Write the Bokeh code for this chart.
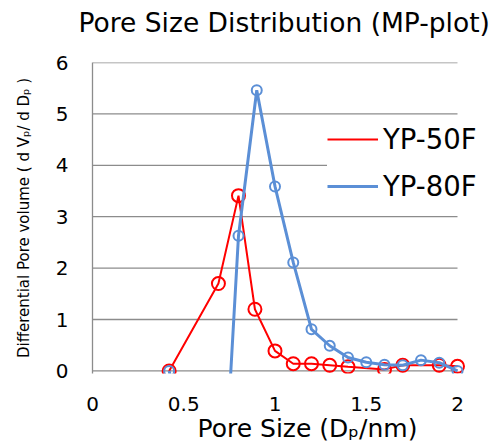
from bokeh.plotting import figure
from bokeh.models import (Legend, LegendItem, FixedTicker, Range1d, ColumnDataSource,
                          CDSView, BooleanFilter, Title, LinearAxis)
from bokeh.embed import file_html
from bokeh.resources import INLINE

# ---- data ----
red_name = "YP-50F"
red_x = [0.42, 0.69, 0.80, 0.89, 1.00, 1.10, 1.20, 1.30, 1.40, 1.60, 1.70, 1.90, 2.00]
red_y = [0.00, 1.70, 3.41, 1.20, 0.39, 0.14, 0.14, 0.11, 0.08, 0.03, 0.11, 0.11, 0.09]

blue_name = "YP-80F"
blue_x = [0.42, 0.69, 0.80, 0.90, 1.00, 1.10, 1.20, 1.30, 1.40, 1.50, 1.60, 1.70, 1.80, 1.90, 2.00]
blue_y = [0.00, -4.26, 2.63, 5.46, 3.59, 2.11, 0.81, 0.49, 0.26, 0.17, 0.12, 0.11, 0.21, 0.16, 0.00]

x_ticks = [0, 0.5, 1, 1.5, 2]
x_tick_labels = {0: "0", 0.5: "0.5", 1: "1", 1.5: "1.5", 2: "2"}
y_ticks = [0, 1, 2, 3, 4, 5, 6]

title_text = "Pore Size Distribution (MP-plot)"
x_label_text = "Pore Size (D\u209a/nm)"
y_label_text = "Differential Pore volume ( d V\u209a/ d D\u209a )"

FONT = "DejaVu Sans"
RED = "#ff0000"
BLUE = "#5b8fd6"
GRID = "#8c8c8c"

W, H = 491, 444
X_END = 2 + (W - 92 - 365) / 182.5   # plot area runs past x=2 so the legend is not clipped

p = figure(width=W, height=H, output_backend="svg", toolbar_location=None,
           x_range=Range1d(0, X_END), y_range=Range1d(-0.05, 6),
           min_border_left=92, min_border_right=0, min_border_top=62, min_border_bottom=71)
p.outline_line_color = None
p.background_fill_color = "white"

xb = p.below[0]   # the bottom x axis
yl = p.left[0]    # the left y axis

# axes
xb.ticker = FixedTicker(ticks=x_ticks)
xb.major_label_overrides = x_tick_labels
yl.ticker = FixedTicker(ticks=y_ticks)
for ax in (xb, yl):
    ax.major_tick_line_color = None
    ax.minor_tick_line_color = None
    ax.major_label_text_font = FONT
    ax.major_label_text_font_size = "20px"
    ax.major_label_text_color = "black"
xb.axis_line_color = None
yl.axis_line_color = GRID
yl.axis_line_width = 1.3
xb.major_label_standoff = 17
yl.major_label_standoff = 18

yl.axis_label = y_label_text
yl.axis_label_text_font = FONT
yl.axis_label_text_font_size = "15px"
yl.axis_label_text_font_style = "normal"
yl.axis_label_text_color = "black"
yl.axis_label_standoff = 20

# spacer axis between the title and the plot area: one white tick, empty label
spacer = LinearAxis(ticker=FixedTicker(ticks=[x_ticks[0]]), major_label_overrides={x_ticks[0]: ""},
                    axis_line_color=None, major_tick_line_color="white", minor_tick_line_color=None,
                    major_tick_out=24, major_tick_in=0, minor_tick_out=0, minor_tick_in=0,
                    major_label_standoff=0, major_label_text_font_size="1px")
p.add_layout(spacer, "above")

# title (above) and x-axis title (below)
p.title.text = title_text
p.title.text_font = FONT
p.title.text_font_size = "26.5px"
p.title.text_font_style = "normal"
p.title.text_color = "black"
p.title.align = "left"
p.title.offset = -14
p.title.vertical_align = "middle"
p.title.standoff = 0

xt = Title(text=x_label_text, text_font=FONT, text_font_size="25px", text_font_style="normal",
           text_color="black", align="left", offset=105, vertical_align="top", standoff=0)
p.add_layout(xt, "below")

# horizontal gridlines only across the 0..2 data span
p.xgrid.grid_line_color = None
p.ygrid.grid_line_color = None
p.segment(x0=x_ticks[0], x1=x_ticks[-1], y0=y_ticks, y1=y_ticks, line_color=GRID, line_width=1.3)

# series
red_src = ColumnDataSource(dict(x=red_x, y=red_y))
blue_src = ColumnDataSource(dict(x=blue_x, y=blue_y))

r_line = p.line("x", "y", source=red_src, line_color=RED, line_width=2)
r_pts = p.scatter("x", "y", source=red_src, marker="circle", size=13,
                  line_color=RED, line_width=2, fill_color=None)
b_line = p.line("x", "y", source=blue_src, line_color=BLUE, line_width=3)
b_pts = p.scatter("x", "y", source=blue_src, marker="circle", size=10,
                  line_color=BLUE, line_width=2, fill_color=None)

# legend-only markers (white filled, as in the reference legend); no point drawn in the plot
r_leg = p.scatter("x", "y", source=red_src, view=CDSView(filter=BooleanFilter([False] * len(red_x))),
                  marker="circle", size=13, line_color=RED, line_width=2, fill_color="white")
b_leg = p.scatter("x", "y", source=blue_src, view=CDSView(filter=BooleanFilter([False] * len(blue_x))),
                  marker="circle", size=10, line_color=BLUE, line_width=2, fill_color="white")

legend = Legend(items=[LegendItem(label=red_name, renderers=[r_line, r_leg]),
                       LegendItem(label=blue_name, renderers=[b_line, b_leg])],
                location=(235, 171), padding=9, margin=0, spacing=15,
                glyph_width=51, glyph_height=30, label_height=30, label_standoff=5,
                border_line_color=None, background_fill_color="white", background_fill_alpha=1.0,
                label_text_font=FONT, label_text_font_size="27.5px", label_text_color="black")
p.add_layout(legend, "center")

open("out.html", "w").write(file_html(p, INLINE))
